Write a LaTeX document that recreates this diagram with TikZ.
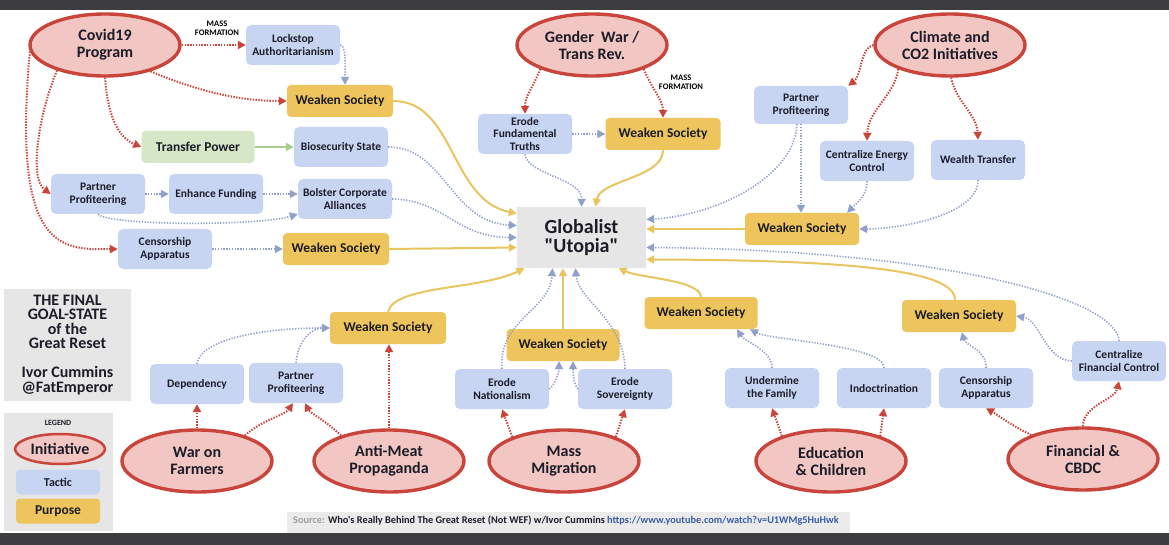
\documentclass[tikz,border=0pt]{standalone}
\usepackage{fontspec}
\setmainfont{Carlito}[Ligatures=TeXOff]
\usepackage{tikz}
\usetikzlibrary{arrows.meta}
\usetikzlibrary{shapes.geometric}
\usepackage{xcolor}
\definecolor{initred}{HTML}{C9443A}
\definecolor{initfill}{HTML}{F2C6C2}
\definecolor{tacticblue}{HTML}{C7D5F3}
\definecolor{purposegold}{HTML}{EEC55C}
\definecolor{powergreen}{HTML}{D5E7C7}
\definecolor{panelgray}{HTML}{E6E6E6}
\definecolor{sourcegray}{HTML}{EBEBEB}
\definecolor{arrowblue}{HTML}{8FA1CB}
\definecolor{goldline}{HTML}{E9C55F}
\definecolor{greenline}{HTML}{A8CF8E}
\definecolor{darkband}{HTML}{3D3D3F}
\definecolor{inkdark}{HTML}{1C1C28}
\definecolor{linkblue}{HTML}{3A5DA8}
\definecolor{srcgray}{HTML}{A0A0A0}
\newcommand{\setfs}[2]{\fontsize{#1}{#2}\selectfont}
\tikzset{
    initiative/.style={
        ellipse,
        draw=initred,
        line width=3.4pt,
        fill=initfill,
        minimum width=150pt,
        minimum height=62pt,
        inner sep=0pt,
        align=center,
        text=inkdark,
        font=\bfseries\setfs{16}{17}
    },
    tactic/.style={
        rectangle,
        rounded corners=5pt,
        fill=tacticblue,
        minimum width=94pt,
        minimum height=40pt,
        inner sep=1pt,
        align=center,
        text=inkdark,
        font=\bfseries\setfs{11.5}{12.5}
    },
    purpose/.style={
        rectangle,
        rounded corners=4pt,
        fill=purposegold,
        minimum width=106pt,
        minimum height=32pt,
        inner sep=1pt,
        text=inkdark,
        font=\bfseries\setfs{13.5}{15}
    },
    powerbox/.style={
        purpose,
        fill=powergreen,
        minimum width=113pt
    },
    panel/.style={
        rectangle,
        fill=panelgray,
        inner sep=0pt,
        align=center,
        text=inkdark
    },
    redlink/.style={
        draw=initred,
        line width=2pt,
        dash pattern=on 1.4pt off 1.4pt,
        -{Triangle[length=8pt, width=8pt]}
    },
    bluelink/.style={
        draw=arrowblue,
        line width=1.6pt,
        dash pattern=on 1.3pt off 1.5pt,
        -{Triangle[length=8pt, width=8pt]}
    },
    goldlink/.style={
        draw=goldline,
        line width=2pt,
        -{Triangle[length=8pt, width=8pt]}
    },
    greenlink/.style={
        draw=greenline,
        line width=2pt,
        -{Triangle[length=8pt, width=8pt]}
    }
}

\begin{document}
\begin{tikzpicture}[x=1pt, y=-1pt]
    \useasboundingbox (0,0) rectangle (1169,545);
    \fill[white] (0,0) rectangle (1169,545);
    \fill[darkband] (0,0) rectangle (1169,10);
    \fill[darkband] (0,533) rectangle (1169,545);

    % Initiatives
    \node[initiative] (covid) at (105,45) {Covid19\\Program};
    \node[initiative] (gender) at (592,45) {Gender\ \ War /\\Trans Rev.};
    \node[initiative] (climate) at (950,45) {Climate and\\CO2 Initiatives};
    \node[initiative] (farmers) at (197,461) {War on\\Farmers};
    \node[initiative] (meat) at (389,461) {Anti-Meat\\Propaganda};
    \node[initiative] (migration) at (564,461) {Mass\\Migration};
    \node[initiative] (education) at (831,461) {Education\\\& Children};
    \node[initiative] (finance) at (1083,459) {Financial \&\\CBDC};

    % Goal
    \node[panel, minimum width=129pt, minimum height=61pt, font=\bfseries\setfs{20}{19}] (utopia) at (581.5,237.5) {Globalist\\"Utopia"};

    % Tactics and purposes - Covid19
    \node[tactic] (lockstep) at (293,45) {Lockstop\\Authoritarianism};
    \node[purpose] (weakA) at (340,101) {Weaken Society};
    \node[powerbox] (transfer) at (198,147) {Transfer Power};
    \node[tactic] (biosec) at (341,147) {Biosecurity State};
    \node[tactic] (partnerA) at (98,194) {Partner\\Profiteering};
    \node[tactic] (funding) at (216,194) {Enhance Funding};
    \node[tactic] (bolster) at (345,199) {Bolster Corporate\\Alliances};
    \node[tactic] (censorA) at (165,249) {Censorship\\Apparatus};
    \node[purpose] (weakB) at (336,249) {Weaken Society};
    \node[font=\bfseries\setfs{8.5}{8.5}, align=center, inner sep=0pt] (massA) at (217,28) {MASS\\FORMATION};

    % Gender war
    \node[tactic] (truths) at (525,134) {Erode\\Fundamental\\Truths};
    \node[purpose, minimum width=115pt] (weakC) at (663,134) {Weaken Society};
    \node[font=\bfseries\setfs{8.5}{8.5}, align=center, inner sep=0pt] (massB) at (681,82) {MASS\\FORMATION};

    % Climate
    \node[tactic, minimum height=38pt] (partnerB) at (801,105) {Partner\\Profiteering};
    \node[tactic] (energy) at (867,161) {Centralize Energy\\Control};
    \node[tactic] (wealth) at (978,160) {Wealth Transfer};
    \node[purpose, minimum width=114pt] (weakD) at (802,229) {Weaken Society};

    % Farmers and meat
    \node[purpose, minimum width=116pt] (weakE) at (388,328) {Weaken Society};
    \node[tactic] (depend) at (197,384) {Dependency};
    \node[tactic] (partnerC) at (296,383) {Partner\\Profiteering};

    % Migration
    \node[purpose, minimum width=113pt] (weakF) at (563,345) {Weaken Society};
    \node[tactic] (nation) at (502,389) {Erode\\Nationalism};
    \node[tactic] (sovereign) at (625,389) {Erode\\Sovereignty};

    % Education
    \node[purpose, minimum width=113pt] (weakG) at (701,313) {Weaken Society};
    \node[tactic] (family) at (772,388) {Undermine\\the Family};
    \node[tactic] (indoc) at (884,388) {Indoctrination};

    % Financial
    \node[tactic] (censorB) at (986,388) {Censorship\\Apparatus};
    \node[purpose, minimum width=114pt] (weakH) at (959,316) {Weaken Society};
    \node[tactic] (fincontrol) at (1119,361) {Centralize\\Financial Control};

    % Title and legend
    \node[panel, minimum width=127pt, minimum height=112pt, font=\bfseries\setfs{16}{14.5}] (goalpanel) at (67.5,345)
        {THE FINAL\\GOAL-STATE\\of the\\Great Reset\\[14.5pt]Ivor Cummins\\@FatEmperor};
    \node[panel, minimum width=109pt, minimum height=118pt] (legendpanel) at (58.5,472) {};
    \node[font=\bfseries\setfs{8}{9}, text=inkdark] (legendtitle) at (58,423) {LEGEND};
    \node[initiative, minimum width=90pt, minimum height=30pt, line width=2.5pt] (legendinit) at (60,449) {Initiative};
    \node[tactic, minimum width=84pt, minimum height=25pt, rounded corners=4pt, font=\bfseries\setfs{12}{13}] (legendtactic) at (58,482) {Tactic};
    \node[purpose, minimum width=84pt, minimum height=25pt, font=\bfseries\setfs{13.5}{14}] (legendpurpose) at (58,511) {Purpose};

    % Source
    \node[rectangle, fill=sourcegray, minimum width=563pt, minimum height=21pt, inner sep=0pt] (sourcebar) at (568.5,522.5) {};
    \node[anchor=west, inner sep=0pt, font=\bfseries\setfs{10.3}{11}, text=inkdark] (sourcetext) at (293,521)
        {\textcolor{srcgray}{Source:} Who's Really Behind The Great Reset (Not WEF) w/Ivor Cummins \textcolor{linkblue}{https://www.youtube.com/watch?v=U1WMg5HuHwk}};

    % Edges - Covid19
    \draw[redlink] (covid.east) -- (lockstep.west);
    \draw[redlink] (covid.-30) .. controls (200,92) and (240,101) .. (weakA.west);
    \draw[redlink] (covid.south) .. controls (108,120) and (120,138) .. (transfer.west);
    \draw[redlink] (covid.-152) .. controls (40,110) and (28,178) .. (partnerA.west);
    \draw[redlink] (covid.185) .. controls (12,250) and (60,250) .. (censorA.west);
    \draw[bluelink] (lockstep.east) .. controls +(6,0) and +(0,-20) .. ([xshift=5pt]weakA.north);
    \draw[greenlink] (transfer.east) -- (biosec.west);
    \draw[bluelink] (partnerA.east) -- (funding.west);
    \draw[bluelink] (funding.east) -- (funding.east -| bolster.west);
    \draw[bluelink] (partnerA.south) .. controls (110,226) and (260,226) .. ([yshift=-15pt]bolster.west);
    \draw[bluelink] (censorA.east) -- (weakB.west);
    \draw[goldlink] (weakA.east) .. controls (455,101) and (450,200) .. ([yshift=24pt]utopia.west);
    \draw[bluelink] (biosec.east) .. controls (445,147) and (450,222) .. ([yshift=12pt]utopia.west);
    \draw[bluelink] (bolster.east) .. controls (445,200) and (455,237) .. (utopia.west);
    \draw[goldlink] (weakB.east) -- ([yshift=-10pt]utopia.west);

    % Edges - Gender war
    \draw[redlink] (gender.-155) .. controls +(-8,20) and +(0,-18) .. (truths.north);
    \draw[redlink] (gender.-25) .. controls +(8,20) and +(0,-18) .. (weakC.north);
    \draw[bluelink] (truths.east) -- (weakC.west);
    \draw[bluelink] (truths.south) .. controls (527,175) and (582,178) .. (utopia.north);
    \draw[goldlink] (weakC.south) .. controls (663,178) and (600,180) .. ([xshift=14pt]utopia.north);

    % Edges - Climate
    \draw[redlink] (climate.west) .. controls (860,48) and (862,75) .. (partnerB.north east);
    \draw[redlink] (climate.-155) .. controls (895,95) and (868,110) .. (energy.north);
    \draw[redlink] (climate.-88) .. controls (955,100) and (977,115) .. (wealth.north);
    \draw[bluelink] (partnerB.south) -- (partnerB.south |- weakD.north);
    \draw[bluelink] ([xshift=-4pt]partnerB.south) .. controls (795,175) and (720,215) .. ([yshift=18pt]utopia.east);
    \draw[bluelink] (energy.south) .. controls +(0,15) and +(10,-10) .. ([xshift=45pt]weakD.north);
    \draw[bluelink] (wealth.south) .. controls (978,215) and (900,229) .. (weakD.east);
    \draw[goldlink] (weakD.west) -- (weakD.west -| utopia.east);

    % Edges - Financial
    \draw[redlink] (finance.155) .. controls (1010,425) and (998,415) .. (censorB.south);
    \draw[redlink] (finance.north) .. controls (1083,405) and (1115,400) .. (fincontrol.south);
    \draw[bluelink] (censorB.north) .. controls (987,350) and (965,345) .. ([xshift=3pt]weakH.south);
    \draw[bluelink] (fincontrol.west) .. controls (1045,360) and (1040,320) .. (weakH.east);
    \draw[bluelink] (fincontrol.north) .. controls (1117,300) and (950,250) .. ([yshift=-10pt]utopia.east);
    \draw[goldlink] ([xshift=-4pt]weakH.north) .. controls (955,270) and (850,260) .. ([yshift=-22pt]utopia.east);

    % Edges - Education
    \draw[redlink] (education.153) -- (family.south);
    \draw[redlink] (education.27) -- (indoc.south);
    \draw[bluelink] (family.north) .. controls (772,350) and (745,342) .. ([xshift=36pt]weakG.south);
    \draw[bluelink] (indoc.north) .. controls (884,345) and (770,340) .. ([xshift=49pt]weakG.south);
    \draw[goldlink] (weakG.north) .. controls (700,280) and (640,278) .. ([xshift=37pt]utopia.south);

    % Edges - Migration
    \draw[redlink] (migration.155) -- (nation.south);
    \draw[redlink] (migration.25) -- (sovereign.south);
    \draw[bluelink] (nation.east) .. controls +(6,-5) and +(0,12) .. ([xshift=-4pt]weakF.south);
    \draw[bluelink] (sovereign.west) .. controls +(-4,-5) and +(0,12) .. ([xshift=10pt]weakF.south);
    \draw[bluelink] (nation.north) .. controls (498,320) and (550,310) .. ([xshift=-29pt]utopia.south);
    \draw[bluelink] (sovereign.north) .. controls (624,320) and (578,300) .. ([xshift=-6pt]utopia.south);
    \draw[goldlink] (weakF.north) -- (weakF.north |- utopia.south);

    % Edges - Farmers and meat
    \draw[redlink] (farmers.north) -- (depend.south);
    \draw[redlink] (farmers.28) .. controls (262,420) and (285,415) .. ([xshift=-3pt]partnerC.south);
    \draw[redlink] (meat.152) .. controls (325,420) and (310,413) .. ([xshift=9pt]partnerC.south);
    \draw[redlink] (meat.north) -- (meat.north |- weakE.south);
    \draw[bluelink] (depend.north) .. controls (200,340) and (260,328) .. (weakE.west);
    \draw[bluelink] (partnerC.north) .. controls (298,340) and (312,328) .. (weakE.west);
    \draw[goldlink] (weakE.north) .. controls (395,285) and (480,290) .. ([xshift=-57pt]utopia.south);
\end{tikzpicture}
\end{document}
